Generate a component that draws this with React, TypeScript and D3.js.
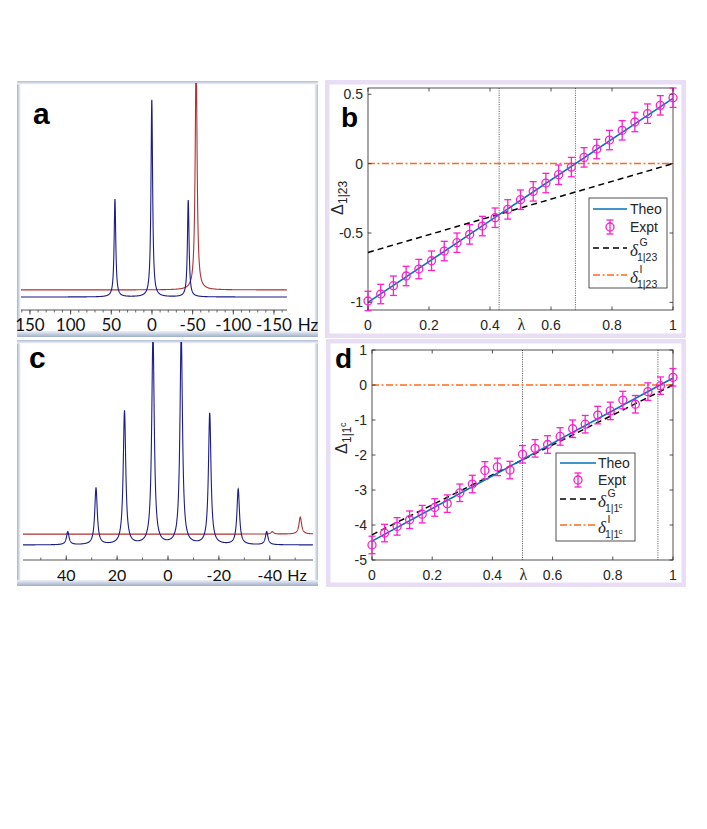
import React from 'react';
import * as d3 from 'd3';

// ---------------- Data ----------------
// Panel a spectrum (Hz)
const aTicks = [150, 100, 50, 0, -50, -100, -150];
const aBluePos = [45.5, 0.2, -44.6];
const aBlueAmp = [49.6, 100, 49.1];
const aBlueWid = [1.2, 1.2, 1.2];
const aRedPos = [-54.3];
const aRedAmp = [118];
const aRedWid = [1.4];
const aRedOffset = 3.6;

// Panel c spectrum (Hz)
const cTicks = [40, 20, 0, -20, -40];
const cBluePos = [39.4, 28.3, 17.1, 5.9, -5.2, -16.4, -27.6, -38.8];
const cBlueAmp = [6.5, 28, 66, 104, 104, 65, 27.5, 6.5];
const cBlueWid = [0.6, 0.6, 0.6, 0.6, 0.6, 0.6, 0.6, 0.6];
const cRedPos = [-41, -52];
const cRedAmp = [1.2, 8.5];
const cRedWid = [0.6, 0.6];
const cRedOffset = 5.4;

// Panels b, d (lambda)
const LAMBDA = [0, 0.0417, 0.0833, 0.125, 0.1667, 0.2083, 0.25, 0.2917, 0.3333, 0.375, 0.4167, 0.4583, 0.5,
  0.5417, 0.5833, 0.625, 0.6667, 0.7083, 0.75, 0.7917, 0.8333, 0.875, 0.9167, 0.9583, 1];
const lambdaTicks = [0, 0.2, 0.4, 0.6, 0.8, 1];

const bExpt = [-0.99, -0.94, -0.88, -0.81, -0.76, -0.70, -0.63, -0.57, -0.51, -0.45, -0.39, -0.33, -0.26,
  -0.20, -0.14, -0.08, -0.025, 0.045, 0.105, 0.17, 0.24, 0.30, 0.36, 0.42, 0.475];
const bErr = [0.07, 0.07, 0.07, 0.07, 0.07, 0.07, 0.07, 0.07, 0.07, 0.07, 0.07, 0.07, 0.07,
  0.07, 0.07, 0.07, 0.07, 0.07, 0.07, 0.07, 0.07, 0.07, 0.07, 0.07, 0.07];
const bTheo: [number, number][] = [[0, -1.0], [1, 0.47]];
const bDeltaG: [number, number][] = [[0, -0.64], [1, 0]];
const bDeltaI: [number, number][] = [[0, 0], [1, 0]];
const bVLines = [0.43, 0.68];
const bYTicks = [-1, -0.5, 0, 0.5];
const bYLabels = ['-1', '-0.5', '0', '0.5'];

const dExpt = [-4.57, -4.23, -4.04, -3.85, -3.69, -3.50, -3.39, -3.08, -2.83, -2.44, -2.34, -2.43, -1.98,
  -1.81, -1.70, -1.47, -1.25, -1.12, -0.86, -0.74, -0.43, -0.55, -0.19, -0.02, 0.22];
const dErr = [0.25, 0.25, 0.25, 0.25, 0.25, 0.25, 0.25, 0.25, 0.25, 0.25, 0.25, 0.25, 0.25,
  0.25, 0.25, 0.25, 0.25, 0.25, 0.25, 0.25, 0.25, 0.25, 0.25, 0.25, 0.25];
const dTheo: [number, number][] = [[0, -4.46], [1, 0.2]];
const dDeltaG: [number, number][] = [[0, -4.28], [1, 0]];
const dDeltaI: [number, number][] = [[0, 0], [1, 0]];
const dVLines = [0.5, 0.95];
const dYTicks = [-5, -4, -3, -2, -1, 0, 1];
const dYLabels = ['-5', '-4', '-3', '-2', '-1', '0', '1'];

// ---------------- Styles ----------------
const BLUE_SPEC = '#1c1c8a';
const RED_SPEC = '#b03232';
const THEO = '#0072BD';
const EXPT = '#ff1ecb';
const ORANGE = '#ff6a1a';
const AX = '#262626';
const SANS = 'Liberation Sans, Arial, sans-serif';
const CAL = 'Lato, sans-serif';

function lorentz(f: number, pos: number[], amp: number[], wid: number[]) {
  let s = 0;
  for (let i = 0; i < pos.length; i++) {
    const w = wid[i];
    s += (amp[i] * w * w) / ((f - pos[i]) * (f - pos[i]) + w * w);
  }
  return s;
}

function specPath(x: d3.ScaleLinear<number, number>, y: d3.ScaleLinear<number, number>,
  pos: number[], amp: number[], wid: number[], offset: number, step: number) {
  const [f0, f1] = x.domain();
  const fs = d3.range(f0, f1, -step);
  const line = d3.line<number>().x((f) => x(f)).y((f) => y(offset + lorentz(f, pos, amp, wid)));
  return line(fs) || '';
}

function SpecFrame({ x0, y0, w, h, id }: { x0: number; y0: number; w: number; h: number; id: string }) {
  return (
    <g>
      <rect x={x0} y={y0} width={w} height={h} fill="#fff" />
      <rect x={x0} y={y0} width={3.5} height={h} fill={`url(#${id}L)`} />
      <rect x={x0 + w - 3.5} y={y0} width={3.5} height={h} fill={`url(#${id}R)`} />
      <rect x={x0} y={y0} width={w} height={3.5} fill={`url(#${id}T)`} />
      <rect x={x0} y={y0 + h - 6} width={w} height={6} fill={`url(#${id}B)`} />
    </g>
  );
}

function SpecPanel(props: {
  frame: [number, number, number, number]; id: string; letter: string; letterPos: [number, number];
  x: d3.ScaleLinear<number, number>; y: d3.ScaleLinear<number, number>; axisY: number;
  ticks: number[]; minorStep: number; tickDir: number; labelY: number; hzX: number;
  blue: [number[], number[], number[]]; red: [number[], number[], number[]]; redOffset: number; step: number;
  fontSize: number;
}) {
  const { frame, id, x, y, axisY, ticks } = props;
  const [fx, fy, fw, fh] = frame;
  const [d0, d1] = x.domain();
  const minors = d3.range(Math.floor(d0 / props.minorStep) * props.minorStep, d1 - 0.001, -props.minorStep)
    .filter((v) => v <= d0 && v >= d1);
  return (
    <g>
      <SpecFrame x0={fx} y0={fy} w={fw} h={fh} id={id} />
      <defs>
        <clipPath id={id + 'clip'}>
          <rect x={fx + 3} y={fy + 2} width={fw - 6} height={axisY - fy - 2} />
        </clipPath>
      </defs>
      <g clipPath={`url(#${id}clip)`}>
        <path d={specPath(x, y, props.red[0], props.red[1], props.red[2], props.redOffset, props.step)}
          fill="none" stroke={RED_SPEC} strokeWidth={1.1} />
        <path d={specPath(x, y, props.blue[0], props.blue[1], props.blue[2], 0, props.step)}
          fill="none" stroke={BLUE_SPEC} strokeWidth={1.1} />
      </g>
      <line x1={x.range()[0]} x2={x.range()[1]} y1={axisY} y2={axisY} stroke="#444" strokeWidth={0.9} />
      {minors.map((v) => (
        <line key={'m' + v} x1={x(v)} x2={x(v)} y1={axisY} y2={axisY + props.tickDir * 2.5} stroke="#444" strokeWidth={0.8} />
      ))}
      {ticks.map((v) => (
        <line key={'t' + v} x1={x(v)} x2={x(v)} y1={axisY} y2={axisY + props.tickDir * 4.5} stroke="#444" strokeWidth={0.9} />
      ))}
      {ticks.map((v) => (
        <text key={'l' + v} x={x(v)} y={props.labelY} textAnchor="middle" fontFamily={CAL}
          fontSize={props.fontSize} fill="#111">{String(v)}</text>
      ))}
      <text x={props.hzX} y={props.labelY} textAnchor="middle" fontFamily={CAL} fontSize={props.fontSize} fill="#111">Hz</text>
      <text x={props.letterPos[0]} y={props.letterPos[1]} fontFamily={SANS} fontWeight="bold" fontSize={30} fill="#000">{props.letter}</text>
    </g>
  );
}

function DeltaSym({ x, yLine, sup, cSup }: { x: number; yLine: number; sup: string; cSup: boolean }) {
  return (
    <g fill={AX} fontFamily={SANS}>
      <text x={x} y={yLine + 8} fontSize={17} fontStyle="italic" fontFamily="Liberation Serif, serif">δ</text>
      <text x={x + 9.5} y={yLine - 2} fontSize={10.5}>{sup}</text>
      <text x={x + 7} y={yLine + 13} fontSize={10.5}>{cSup ? '1|1' : '1|23'}</text>
      {cSup ? <text x={x + 20.5} y={yLine + 8.5} fontSize={8}>c</text> : null}
    </g>
  );
}

function LambdaPanel(props: {
  frame: [number, number, number, number]; letter: string; letterPos: [number, number];
  x: d3.ScaleLinear<number, number>; y: d3.ScaleLinear<number, number>;
  yTicks: number[]; yLabels: string[]; expt: number[]; err: number[];
  theo: [number, number][]; dG: [number, number][]; dI: [number, number][]; vlines: number[];
  legend: [number, number, number, number]; rows: number[]; lineX: [number, number]; textX: number;
  ylabX: number; ylabY: number; cSup: boolean;
}) {
  const { x, y, frame } = props;
  const [fx, fy, fw, fh] = frame;
  const [xl, xr] = x.range();
  const [yb, yt] = y.range();
  const line = d3.line<[number, number]>().x((d) => x(d[0])).y((d) => y(d[1]));
  const [lx, ly, lw, lh] = props.legend;
  const mid = (props.lineX[0] + props.lineX[1]) / 2;
  return (
    <g>
      <rect x={fx} y={fy} width={fw} height={fh} fill="#fff" stroke="#d2bde8" strokeWidth={1} />
      <rect x={fx + 2} y={fy + 2} width={fw - 4} height={fh - 4} fill="none" stroke="#e9ddf5" strokeWidth={3} />
      {/* plot box */}
      <rect x={xl} y={yt} width={xr - xl} height={yb - yt} fill="#fff" stroke={AX} strokeWidth={0.8} />
      {props.vlines.map((v) => (
        <line key={'v' + v} x1={x(v)} x2={x(v)} y1={yt} y2={yb} stroke="#222" strokeWidth={0.8} strokeDasharray="1,1.3" />
      ))}
      <path d={line(props.dI) || ''} fill="none" stroke={ORANGE} strokeWidth={1.5} strokeDasharray="7,2.5,2,2.5" />
      <path d={line(props.dG) || ''} fill="none" stroke="#000" strokeWidth={1.5} strokeDasharray="6,4" />
      <path d={line(props.theo) || ''} fill="none" stroke={THEO} strokeWidth={1.6} />
      {props.expt.map((v, i) => {
        const cx = x(LAMBDA[i]);
        const e = props.err[i];
        return (
          <g key={'e' + i} stroke={EXPT} strokeWidth={1.3} fill="none">
            <line x1={cx} x2={cx} y1={y(v - e)} y2={y(v + e)} />
            <line x1={cx - 3.5} x2={cx + 3.5} y1={y(v - e)} y2={y(v - e)} />
            <line x1={cx - 3.5} x2={cx + 3.5} y1={y(v + e)} y2={y(v + e)} />
            <circle cx={cx} cy={y(v)} r={4} />
          </g>
        );
      })}
      {/* ticks */}
      {lambdaTicks.map((t) => (
        <g key={'xt' + t} stroke={AX} strokeWidth={0.8}>
          <line x1={x(t)} x2={x(t)} y1={yb} y2={yb - 3.5} />
          <line x1={x(t)} x2={x(t)} y1={yt} y2={yt + 3.5} />
        </g>
      ))}
      {props.yTicks.map((t) => (
        <g key={'yt' + t} stroke={AX} strokeWidth={0.8}>
          <line x1={xl} x2={xl + 3.5} y1={y(t)} y2={y(t)} />
          <line x1={xr} x2={xr - 3.5} y1={y(t)} y2={y(t)} />
        </g>
      ))}
      {lambdaTicks.map((t) => (
        <text key={'xl' + t} x={x(t)} y={yb + 20} textAnchor="middle" fontFamily={SANS} fontSize={14} fill={AX}>{String(t)}</text>
      ))}
      {props.yTicks.map((t, i) => (
        <text key={'yl' + t} x={xl - 5} y={y(t) + 5} textAnchor="end" fontFamily={SANS} fontSize={14} fill={AX}>{props.yLabels[i]}</text>
      ))}
      <text x={x(0.5) + 1} y={yb + 20} textAnchor="middle" fontFamily="Liberation Serif, serif" fontSize={16} fill={AX}>λ</text>
      {/* y label */}
      <g transform={`translate(${props.ylabX},${props.ylabY}) rotate(-90)`} fontFamily={SANS} fill={AX}>
        <text x={0} y={0} fontSize={16}>Δ</text>
        <text x={11} y={4} fontSize={12}>{props.cSup ? '1|1' : '1|23'}</text>
        {props.cSup ? <text x={27} y={-1} fontSize={9}>c</text> : null}
      </g>
      {/* legend */}
      <rect x={lx} y={ly} width={lw} height={lh} fill="#fff" stroke={AX} strokeWidth={0.8} />
      <line x1={props.lineX[0]} x2={props.lineX[1]} y1={props.rows[0]} y2={props.rows[0]} stroke={THEO} strokeWidth={1.6} />
      <text x={props.textX} y={props.rows[0] + 5} fontFamily={SANS} fontSize={14} fill={AX}>Theo</text>
      <g stroke={EXPT} strokeWidth={1.3} fill="none">
        <line x1={mid} x2={mid} y1={props.rows[1] - 7} y2={props.rows[1] + 7} />
        <line x1={mid - 3.5} x2={mid + 3.5} y1={props.rows[1] - 7} y2={props.rows[1] - 7} />
        <line x1={mid - 3.5} x2={mid + 3.5} y1={props.rows[1] + 7} y2={props.rows[1] + 7} />
        <circle cx={mid} cy={props.rows[1]} r={4} />
      </g>
      <text x={props.textX} y={props.rows[1] + 5} fontFamily={SANS} fontSize={14} fill={AX}>Expt</text>
      <line x1={props.lineX[0]} x2={props.lineX[1]} y1={props.rows[2]} y2={props.rows[2]} stroke="#000" strokeWidth={1.5} strokeDasharray="6,4" />
      <DeltaSym x={props.textX} yLine={props.rows[2]} sup="G" cSup={props.cSup} />
      <line x1={props.lineX[0]} x2={props.lineX[1]} y1={props.rows[3]} y2={props.rows[3]} stroke={ORANGE} strokeWidth={1.5} strokeDasharray="7,2.5,2,2.5" />
      <DeltaSym x={props.textX} yLine={props.rows[3]} sup="I" cSup={props.cSup} />
      <text x={props.letterPos[0]} y={props.letterPos[1]} fontFamily={SANS} fontWeight="bold" fontSize={28} fill="#000">{props.letter}</text>
    </g>
  );
}

function FrameGradients({ id }: { id: string }) {
  return (
    <>
      <linearGradient id={id + 'L'} x1="0" x2="1" y1="0" y2="0">
        <stop offset="0" stopColor="#a7b4ce" />
        <stop offset="1" stopColor="#f1f4f9" />
      </linearGradient>
      <linearGradient id={id + 'R'} x1="0" x2="1" y1="0" y2="0">
        <stop offset="0" stopColor="#f1f4f9" />
        <stop offset="1" stopColor="#b3bfd6" />
      </linearGradient>
      <linearGradient id={id + 'T'} x1="0" x2="0" y1="0" y2="1">
        <stop offset="0" stopColor="#b1bdd5" />
        <stop offset="1" stopColor="#f4f6fa" />
      </linearGradient>
      <linearGradient id={id + 'B'} x1="0" x2="0" y1="0" y2="1">
        <stop offset="0" stopColor="#eef1f7" />
        <stop offset="1" stopColor="#9fadc9" />
      </linearGradient>
    </>
  );
}

export default function App() {
  const aX = d3.scaleLinear().domain([161, -166]).range([21, 287]);
  const aY = d3.scaleLinear().domain([0, 100]).range([297, 100]);
  const cX = d3.scaleLinear().domain([57, -57]).range([23, 313]);
  const cY = d3.scaleLinear().domain([0, 100]).range([545, 343]);
  const bX = d3.scaleLinear().domain([0, 1]).range([368, 673]);
  const bY = d3.scaleLinear().domain([-1.055, 0.545]).range([310, 88]);
  const dX = d3.scaleLinear().domain([0, 1]).range([372, 673]);
  const dY = d3.scaleLinear().domain([-5, 1]).range([560, 350]);

  return (
    <svg width={707} height={829} style={{ position: 'absolute', left: 0, top: 0, background: '#fff' }}>
      <defs>
        <FrameGradients id="fa" />
        <FrameGradients id="fc" />
      </defs>
      <rect x={0} y={0} width={707} height={829} fill="#fff" />
      <SpecPanel frame={[17, 81, 301, 256]} id="fa" letter="a" letterPos={[33, 124]} x={aX} y={aY} axisY={310}
        ticks={aTicks} minorStep={10} tickDir={1} labelY={331} hzX={308}
        blue={[aBluePos, aBlueAmp, aBlueWid]} red={[aRedPos, aRedAmp, aRedWid]} redOffset={aRedOffset} step={0.1} fontSize={17} />
      <SpecPanel frame={[17, 340, 301, 246]} id="fc" letter="c" letterPos={[29, 368]} x={cX} y={cY} axisY={560}
        ticks={cTicks} minorStep={10} tickDir={-1} labelY={581} hzX={297}
        blue={[cBluePos, cBlueAmp, cBlueWid]} red={[cRedPos, cRedAmp, cRedWid]} redOffset={cRedOffset} step={0.04} fontSize={16} />
      <LambdaPanel frame={[326, 81, 359, 256]} letter="b" letterPos={[341, 127]} x={bX} y={bY}
        yTicks={bYTicks} yLabels={bYLabels} expt={bExpt} err={bErr} theo={bTheo} dG={bDeltaG} dI={bDeltaI}
        vlines={bVLines} legend={[589, 198, 78, 90]} rows={[209, 227, 248, 275]} lineX={[593, 627]} textX={630}
        ylabX={343} ylabY={215} cSup={false} />
      <LambdaPanel frame={[327, 340, 358, 246]} letter="d" letterPos={[335, 368]} x={dX} y={dY}
        yTicks={dYTicks} yLabels={dYLabels} expt={dExpt} err={dErr} theo={dTheo} dG={dDeltaG} dI={dDeltaI}
        vlines={dVLines} legend={[556, 453, 79, 88]} rows={[463, 480, 499, 525]} lineX={[560, 596]} textX={598}
        ylabX={347} ylabY={454} cSup={true} />
    </svg>
  );
}
